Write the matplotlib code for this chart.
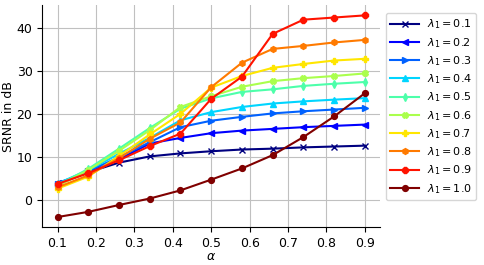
import numpy as np
import matplotlib
matplotlib.use('Agg')
import matplotlib.pyplot as plt

alpha = [0.1, 0.18, 0.26, 0.34, 0.42, 0.5, 0.58, 0.66, 0.74, 0.82, 0.9]
lambdas = [0.1, 0.2, 0.3, 0.4, 0.5, 0.6, 0.7, 0.8, 0.9, 1.0]

srnr_01 = [3.7, 6.5, 8.75, 10.2, 10.9, 11.4, 11.8, 12.0, 12.3, 12.5, 12.7]
srnr_02 = [4.0, 6.5, 9.5, 13.2, 14.5, 15.6, 16.2, 16.6, 17.0, 17.3, 17.6]
srnr_03 = [3.8, 6.8, 10.0, 13.5, 17.0, 18.5, 19.4, 20.2, 20.7, 21.1, 21.5]
srnr_04 = [3.9, 7.0, 10.8, 14.5, 18.6, 20.5, 21.7, 22.5, 23.0, 23.4, 23.75]
srnr_05 = [3.5, 7.3, 12.0, 16.8, 21.3, 23.7, 25.2, 25.8, 26.6, 27.1, 27.5]
srnr_06 = [3.3, 7.0, 11.5, 16.3, 21.7, 24.2, 26.4, 27.7, 28.4, 28.9, 29.5]
srnr_07 = [2.7, 5.5, 10.3, 15.3, 20.1, 26.2, 28.9, 30.8, 31.7, 32.5, 32.9]
srnr_08 = [3.0, 5.8, 9.8, 14.3, 18.1, 26.3, 32.0, 35.2, 35.9, 36.7, 37.3]
srnr_09 = [3.8, 6.3, 9.3, 12.6, 15.5, 23.6, 28.75, 38.7, 42.0, 42.5, 43.0]
srnr_10 = [-3.9, -2.7, -1.1, 0.4, 2.3, 4.8, 7.4, 10.5, 14.7, 19.5, 24.9]

series = [srnr_01, srnr_02, srnr_03, srnr_04, srnr_05,
          srnr_06, srnr_07, srnr_08, srnr_09, srnr_10]
markers = ['x', '<', '>', '^', 'd', 'X', 'P', 'h', '8', 'o']
colors = plt.cm.jet(np.linspace(0, 1, len(lambdas)))

plt.rcParams['font.size'] = 9

fig = plt.figure(figsize=(4.85, 2.65), dpi=100)
ax = fig.add_axes([0.087, 0.143, 0.697, 0.837])

for lam, vals, mk, c in zip(lambdas, series, markers, colors):
    ax.plot(alpha, vals, marker=mk, color=c, lw=1.5, ms=4.2,
            label=r'$\lambda_1 = %.1f$' % lam)

ax.grid(True, color='#c0c0c0', lw=0.8)
ax.spines['top'].set_visible(False)
ax.spines['right'].set_visible(False)
ax.tick_params(labelsize=9)
ax.set_xticks([0.1, 0.2, 0.3, 0.4, 0.5, 0.6, 0.7, 0.8, 0.9])
ax.set_yticks([0, 10, 20, 30, 40])
ax.set_xlabel(r'$\alpha$', labelpad=0)
ax.set_ylabel('SRNR in dB', labelpad=1)
ax.legend(loc='upper left', bbox_to_anchor=(1.0, 0.99), fontsize=8,
          handlelength=2.6, borderpad=0.4, labelspacing=0.4,
          handletextpad=0.7)

fig.savefig('out.png', dpi=100)
